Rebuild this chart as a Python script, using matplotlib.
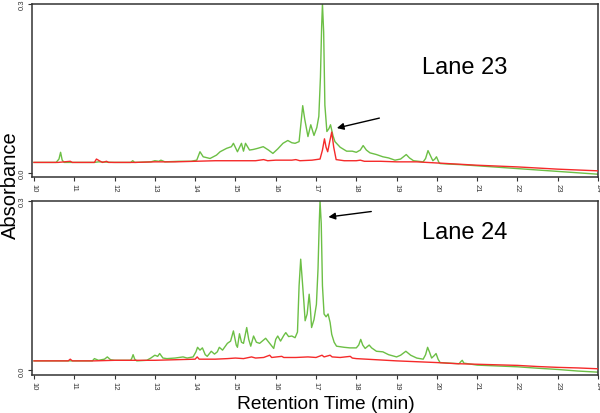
import matplotlib
matplotlib.use("Agg")
import matplotlib.pyplot as plt

plt.rcParams['font.family'] = ['Liberation Sans', 'DejaVu Sans']

# retention time ticks
time_ticks = list(range(10, 25))
abs_ticks = [0.0, 0.3]
abs_tick_labels = ["0.0", "0.3"]

# Lane 23 - green trace
l23_green_t = [10.0, 10.55, 10.62, 10.66, 10.70, 10.75, 11.5, 11.6, 12.0, 12.4, 12.45, 12.5,
               12.9, 13.0, 13.1, 13.15, 13.25, 13.6, 13.9, 14.04, 14.12, 14.2, 14.37, 14.53,
               14.62, 14.78, 14.9, 14.95, 15.05, 15.15, 15.2, 15.25, 15.35, 15.44, 15.55,
               15.69, 15.82, 15.93, 16.05, 16.18, 16.3, 16.4, 16.48, 16.58, 16.63, 16.67,
               16.72, 16.8, 16.87, 16.95, 17.02, 17.07, 17.11, 17.14, 17.16, 17.19, 17.22,
               17.27, 17.32, 17.36, 17.42, 17.47, 17.6, 17.76, 17.9, 18.0, 18.1, 18.17,
               18.25, 18.34, 18.5, 18.66, 18.8, 18.96, 19.1, 19.24, 19.32, 19.42, 19.66,
               19.72, 19.78, 19.84, 19.9, 19.95, 19.99, 20.05, 20.08, 20.3, 20.6, 21.0,
               21.5, 22.0, 22.5, 23.0, 23.5, 24.0]
l23_green_a = [0.018, 0.018, 0.024, 0.036, 0.022, 0.018, 0.018, 0.019, 0.018, 0.018, 0.021, 0.018,
               0.019, 0.021, 0.020, 0.022, 0.019, 0.020, 0.020, 0.022, 0.037, 0.028, 0.025, 0.031,
               0.037, 0.043, 0.046, 0.052, 0.037, 0.052, 0.038, 0.052, 0.040, 0.041, 0.043,
               0.046, 0.040, 0.034, 0.042, 0.052, 0.057, 0.053, 0.052, 0.055, 0.090, 0.119,
               0.095, 0.064, 0.085, 0.066, 0.080, 0.100, 0.170, 0.260, 0.300, 0.250, 0.120,
               0.073, 0.078, 0.085, 0.066, 0.055, 0.045, 0.038, 0.038, 0.036, 0.040, 0.048,
               0.040, 0.035, 0.032, 0.028, 0.026, 0.022, 0.024, 0.032, 0.026, 0.021, 0.019,
               0.025, 0.039, 0.030, 0.021, 0.024, 0.028, 0.018, 0.016, 0.015, 0.014, 0.012,
               0.0095, 0.007, 0.0045, 0.002, -0.0005, -0.003]

# Lane 23 - red trace
l23_red_t = [10.0, 10.6, 10.9, 10.95, 11.5, 11.55, 11.62, 11.7, 11.8, 11.85, 12.5, 13.0, 13.5,
             14.0, 14.5, 15.0, 15.5, 15.7, 15.8, 16.0, 16.4, 16.5, 16.6, 16.9, 17.1, 17.16,
             17.21, 17.25, 17.29, 17.34, 17.39, 17.44, 17.5, 17.7, 18.0, 18.1, 18.2, 18.6,
             19.0, 19.5, 20.0, 20.5, 21.0, 21.5, 22.0, 22.5, 23.0, 23.5, 24.0]
l23_red_a = [0.018, 0.018, 0.020, 0.018, 0.018, 0.024, 0.021, 0.018, 0.020, 0.018, 0.018, 0.019, 0.019,
             0.020, 0.021, 0.021, 0.021, 0.023, 0.021, 0.022, 0.022, 0.023, 0.021, 0.022, 0.024, 0.040,
             0.060, 0.045, 0.037, 0.055, 0.072, 0.045, 0.023, 0.021, 0.021, 0.022, 0.020, 0.020,
             0.019, 0.019, 0.017, 0.015, 0.013, 0.0115, 0.010, 0.008, 0.006, 0.0045, 0.003]

# Lane 24 - green trace
l24_green_t = [10.0, 10.5, 11.45, 11.5, 11.6, 11.75, 11.82, 11.9, 12.0, 12.4, 12.43, 12.46, 12.5,
               12.55, 12.8, 12.9, 13.0, 13.07, 13.12, 13.2, 13.3, 13.5, 13.7, 13.8, 13.95, 14.02,
               14.06, 14.12, 14.18, 14.25, 14.3, 14.4, 14.48, 14.55, 14.6, 14.68, 14.8, 14.88,
               14.95, 15.02, 15.05, 15.1, 15.15, 15.2, 15.28, 15.33, 15.38, 15.45, 15.52, 15.6,
               15.75, 15.85, 15.95, 16.0, 16.05, 16.12, 16.2, 16.25, 16.32, 16.4, 16.48, 16.54,
               16.58, 16.62, 16.66, 16.7, 16.73, 16.78, 16.83, 16.86, 16.89, 16.95, 17.01,
               17.05, 17.08, 17.1, 17.13, 17.16, 17.2, 17.25, 17.3, 17.35, 17.39, 17.45, 17.51,
               17.7, 17.84, 18.0, 18.06, 18.11, 18.16, 18.22, 18.32, 18.38, 18.5, 18.66, 18.8,
               19.0, 19.1, 19.23, 19.35, 19.5, 19.66, 19.72, 19.77, 19.82, 19.87, 19.93, 19.98,
               20.03, 20.08, 20.3, 20.55, 20.6, 20.63, 20.67, 21.0, 21.5, 22.0, 22.5, 23.0,
               23.5, 24.0]
l24_green_a = [0.017, 0.017, 0.017, 0.021, 0.018, 0.020, 0.024, 0.019, 0.018, 0.018, 0.022, 0.028, 0.020,
               0.017, 0.018, 0.022, 0.027, 0.025, 0.030, 0.022, 0.021, 0.022, 0.024, 0.022, 0.024, 0.033,
               0.041, 0.036, 0.040, 0.028, 0.025, 0.034, 0.029, 0.033, 0.041, 0.036, 0.048, 0.052,
               0.070, 0.045, 0.041, 0.065, 0.050, 0.048, 0.076, 0.055, 0.043, 0.061, 0.050, 0.048,
               0.057, 0.048, 0.039, 0.055, 0.061, 0.052, 0.062, 0.067, 0.060, 0.061, 0.058, 0.068,
               0.150, 0.197, 0.159, 0.120, 0.088, 0.100, 0.135, 0.110, 0.076, 0.090, 0.117,
               0.180, 0.260, 0.300, 0.260, 0.150, 0.100, 0.095, 0.100, 0.085, 0.064, 0.050, 0.043,
               0.041, 0.040, 0.040, 0.045, 0.055, 0.045, 0.039, 0.045, 0.040, 0.034, 0.033, 0.028,
               0.024, 0.027, 0.034, 0.027, 0.022, 0.020, 0.028, 0.041, 0.032, 0.022, 0.026, 0.030,
               0.020, 0.014, 0.013, 0.012, 0.016, 0.018, 0.013, 0.0095, 0.008, 0.0065, 0.004, 0.0018,
               -0.001, -0.003]

# Lane 24 - red trace
l24_red_t = [10.0, 10.5, 10.85, 10.9, 10.95, 11.5, 12.0, 13.0, 13.5, 14.0, 14.05, 14.1, 14.5, 14.8,
             15.0, 15.2, 15.4, 15.5, 15.7, 15.85, 15.9, 16.15, 16.2, 16.5, 16.8, 17.0, 17.15,
             17.2, 17.3, 17.35, 17.4, 17.6, 17.85, 17.9, 18.0, 18.5, 19.0, 19.5, 20.0, 20.5,
             21.0, 21.5, 22.0, 22.5, 23.0, 23.5, 24.0]
l24_red_a = [0.017, 0.017, 0.017, 0.020, 0.017, 0.017, 0.018, 0.018, 0.019, 0.020, 0.024, 0.020, 0.020, 0.021,
             0.022, 0.021, 0.024, 0.022, 0.023, 0.027, 0.023, 0.025, 0.023, 0.023, 0.024, 0.023, 0.027,
             0.024, 0.026, 0.027, 0.024, 0.023, 0.025, 0.022, 0.021, 0.019, 0.017, 0.0155, 0.014, 0.012,
             0.011, 0.010, 0.009, 0.007, 0.0055, 0.0045, 0.003]

lanes = [
    ("Lane 23", l23_green_t, l23_green_a, l23_red_t, l23_red_a),
    ("Lane 24", l24_green_t, l24_green_a, l24_red_t, l24_red_a),
]
# arrow tail -> head (time, absorbance)
arrows = [((18.64, 0.098), (17.45, 0.078)), ((18.44, 0.282), (17.24, 0.271))]
label_y = [0.601, 0.786]

green = "#6cbf45"
red = "#f52a2a"

fig = plt.figure(figsize=(6.0, 4.14), dpi=100)
boxes = [[0.0533, 0.570, 0.9434, 0.418], [0.0533, 0.0918, 0.9434, 0.4203]]

for i, (name, gt, ga, rt, ra) in enumerate(lanes):
    ax = fig.add_axes(boxes[i])
    ax.plot(gt, ga, color=green, lw=1.0, zorder=2, solid_joinstyle="round")
    ax.plot(rt, ra, color=red, lw=1.0, zorder=3, solid_joinstyle="round")
    ax.set_xlim(9.95, 24)
    ax.set_ylim(-0.008, 0.3)
    ax.set_xticks(time_ticks)
    ax.set_xticklabels([str(t) for t in time_ticks], rotation=-90, fontsize=5.5, color="#444444")
    ax.set_yticks(abs_ticks)
    ax.set_yticklabels(abs_tick_labels, rotation=90, fontsize=5.5, color="#444444", va="center")
    ax.tick_params(length=3, width=0.8, pad=1.5, colors="#333333")
    for s in ax.spines.values():
        s.set_linewidth(1.1)
        s.set_color("#333333")
    ax.text(0.765, label_y[i], name, transform=ax.transAxes, ha="center", va="baseline", fontsize=17)
    tail, head = arrows[i]
    ax.annotate("", xy=head, xytext=tail,
                arrowprops=dict(arrowstyle="-|>", color="black", lw=1.0, mutation_scale=10), zorder=5)

fig.text(0.002, 0.553, "Absorbance", rotation=90, ha="left", va="center", fontsize=14.5)
fig.text(0.5425, 0.012, "Retention Time (min)", ha="center", va="baseline", fontsize=13.8)

fig.savefig("out.png", dpi=100)
